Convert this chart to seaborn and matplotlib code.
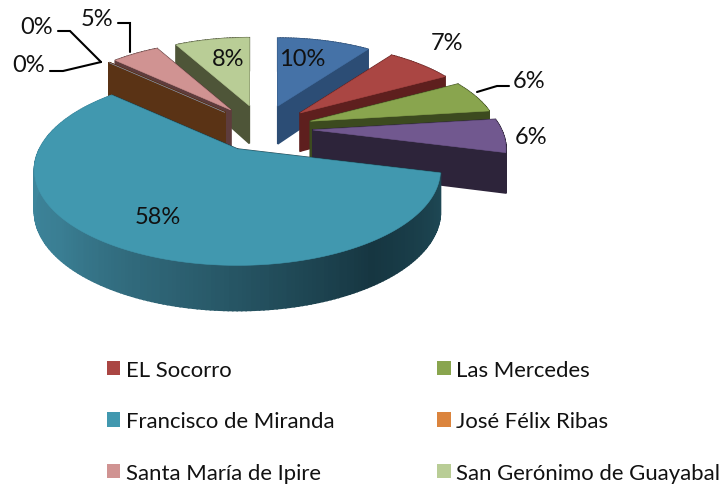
import matplotlib

matplotlib.use('Agg')
import matplotlib.pyplot as plt
import numpy as np
import seaborn as sns
from matplotlib.patches import Patch, Polygon

# blue, purple and the second 0% slice have no entry in the legend
categories = [None, 'EL Socorro', 'Las Mercedes', None, 'Francisco de Miranda',
              'José Félix Ribas', None, 'Santa María de Ipire', 'San Gerónimo de Guayabal']
values = [10, 7, 6, 6, 58, 0, 0, 5, 8]
value_labels = ['10%', '7%', '6%', '6%', '58%', '0%', '0%', '5%', '8%']

top_colors = ['#4572A7', '#AA4643', '#89A54E', '#71588F', '#4198AF',
              '#DB843D', '#93A9CF', '#D09392', '#B9CD96']
side_colors = ['#2C4D75', '#5E1F1E', '#3C4A1F', '#2D243A', '#1A3F4A',
               '#5A3315', '#5A3315', '#5E3C3C', '#4E5538']
teal_rim_stops = ['#1F4A57', '#163641', '#2A5C6C', '#3A7E93', '#3E889E', '#3E889E']

label_pos = [(302, 60), (447, 44), (529, 81), (531, 137), (158, 218),
             (37, 28), (29, 66), (97, 19), (228, 59)]
leaders = [[(477, 93), (497, 87), (509, 87)],
           [(58, 32), (70, 32), (101, 63)],
           [(50, 72), (63, 72), (101, 63)],
           [(118, 24), (130, 24), (130, 53)]]
draw_order = [8, 0, 1, 2, 7, 5, 6, 3, 4]

CX, CY = 262, 129.5
RX, RY = 188, 86
EX, EY = 51, 23.5
PERSP = 0.21


def project(theta, radius, apex, ey):
    x_unit = np.sin(theta) * radius
    y_unit = -np.cos(theta) * radius
    y_total = y_unit + ey / RY
    scale = 1 / (1 - PERSP * y_total)
    depth = 39 + 5 * y_total
    return apex[0] + x_unit * scale * RX, apex[1] + y_unit * scale * RY, depth


def draw_slice(ax, start, end, idx):
    mid = (start + end) / 2
    ey = -EY * np.cos(mid)
    apex = (CX + EX * np.sin(mid), CY + ey)
    n = max(2, int(np.degrees(end - start)))
    thetas = np.linspace(start, end, n)
    pts = [project(0, 0, apex, ey)] + [project(t, 1, apex, ey) for t in thetas]
    if idx == 4:
        rim = sns.blend_palette(teal_rim_stops, n_colors=n)
    else:
        rim = [side_colors[idx]] * n
    for i in range(len(pts)):
        p, q = pts[i], pts[(i + 1) % len(pts)]
        color = rim[i - 1] if 1 <= i < n else side_colors[idx]
        quad = [(p[0], p[1]), (q[0], q[1]), (q[0], q[1] + q[2]), (p[0], p[1] + p[2])]
        ax.add_patch(Polygon(quad, closed=True, facecolor=color, edgecolor=color, lw=1.2))
    ax.add_patch(Polygon([(p[0], p[1]) for p in pts], closed=True,
                         facecolor=top_colors[idx], edgecolor=top_colors[idx], lw=0.4))


sns.set_theme(style='white')
plt.rcParams['font.family'] = ['Lato', 'DejaVu Sans']

fig = plt.figure(figsize=(7.21, 4.89), dpi=100)
ax = fig.add_axes([0, 0, 1, 1])
ax.set_xlim(0, 721)
ax.set_ylim(489, 0)
ax.axis('off')

edges = np.radians(np.cumsum([0] + values) * 3.6)
for idx in draw_order:
    draw_slice(ax, edges[idx], edges[idx + 1], idx)

for text, (x, y) in zip(value_labels, label_pos):
    ax.text(x, y, text, ha='center', va='center', fontsize=17, color='#111111')

for line in leaders:
    xs, ys = zip(*line)
    ax.plot(xs, ys, color='black', lw=1.5, solid_joinstyle='miter')

handles = {}
for name, color in zip(categories, top_colors):
    if name:
        handles[name] = Patch(facecolor=color, edgecolor='none', label=name)
legend_order = ['EL Socorro', 'Francisco de Miranda', 'Santa María de Ipire',
                'Las Mercedes', 'José Félix Ribas', 'San Gerónimo de Guayabal']
ax.legend(handles=[handles[n] for n in legend_order], ncols=2, frameon=False,
          loc='upper left', bbox_to_anchor=(107, 361), bbox_transform=ax.transData,
          borderaxespad=0, borderpad=0, fontsize=15.9, labelcolor='#111111',
          handlelength=0.61, handleheight=0.61, handletextpad=0.25,
          labelspacing=1.42, columnspacing=4.65)

fig.savefig('out.png', dpi=100)
plt.close(fig)
